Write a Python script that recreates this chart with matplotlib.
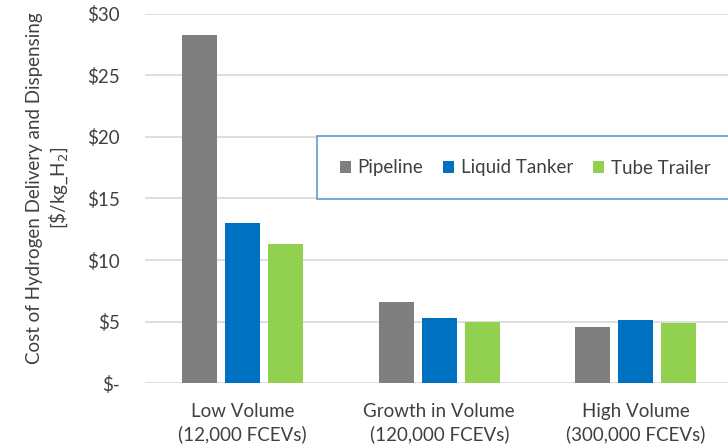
import matplotlib.pyplot as plt
import numpy as np
from matplotlib.patches import Rectangle

# data
categories = ['Low Volume\n(12,000 FCEVs)', 'Growth in Volume\n(120,000 FCEVs)', 'High Volume\n(300,000 FCEVs)']
series_names = ['Pipeline', 'Liquid Tanker', 'Tube Trailer']
pipeline = [28.3, 6.62, 4.6]
liquid_tanker = [13.0, 5.28, 5.14]
tube_trailer = [11.3, 4.95, 4.93]
y_ticks = [0, 5, 10, 15, 20, 25, 30]
y_tick_labels = ['$-', '$5', '$10', '$15', '$20', '$25', '$30']

colors = ['#7F7F7F', '#0070C0', '#92D050']
text_color = '#404040'

plt.rcParams['font.family'] = ['Lato', 'DejaVu Sans']

fig = plt.figure(figsize=(7.28, 4.48), dpi=100)
W, H = 728, 448
ax = fig.add_axes([144.5 / W, 1 - 383.3 / H, (734 - 144.5) / W, (383.3 - 13.7) / H])

x = np.arange(len(categories))
width = 0.178
step = 0.219
for i, (vals, name) in enumerate(zip([pipeline, liquid_tanker, tube_trailer], series_names)):
    ax.bar(x + (i - 1) * step, vals, width, color=colors[i], label=name, zorder=2)

ax.set_xlim(-0.5, 2.5)
ax.set_ylim(0, 30)
ax.set_yticks(y_ticks)
ax.set_yticklabels(y_tick_labels, fontsize=13.5, color=text_color)
ax.set_xticks(x)
ax.set_xticklabels(categories, fontsize=13.5, color=text_color, linespacing=1.35)
ax.tick_params(axis='both', length=0)
ax.tick_params(axis='y', pad=18)
ax.tick_params(axis='x', pad=14)
ax.grid(axis='y', color='#D9D9D9', linewidth=1.2, zorder=0)
ax.set_axisbelow(True)
for s in ax.spines.values():
    s.set_visible(False)

fig.text(35 / W, 1 - 188 / H, 'Cost of Hydrogen Delivery and Dispensing',
         rotation=90, ha='center', va='center', fontsize=13.5, color=text_color)
fig.text(59 / W, 1 - 188 / H, r'[\$/kg_H$_2$]',
         rotation=90, ha='center', va='center', fontsize=13.5, color=text_color)

# legend box, runs off the right edge like the reference
box = Rectangle((317 / W, 1 - 199 / H), (760 - 317) / W, (199 - 136) / H,
                transform=fig.transFigure, facecolor='white', edgecolor='#5B9BD5',
                linewidth=1.2, clip_on=False, zorder=3)
ax.add_patch(box)
leg = ax.legend(loc='center left', bbox_to_anchor=(323 / W, 1 - 168 / H),
                bbox_transform=fig.transFigure, ncol=3, frameon=False,
                fontsize=13.5, handlelength=0.6, handleheight=0.6,
                handletextpad=0.35, columnspacing=1.05, labelcolor=text_color)
leg.set_zorder(4)

fig.savefig('out.png', dpi=100)
